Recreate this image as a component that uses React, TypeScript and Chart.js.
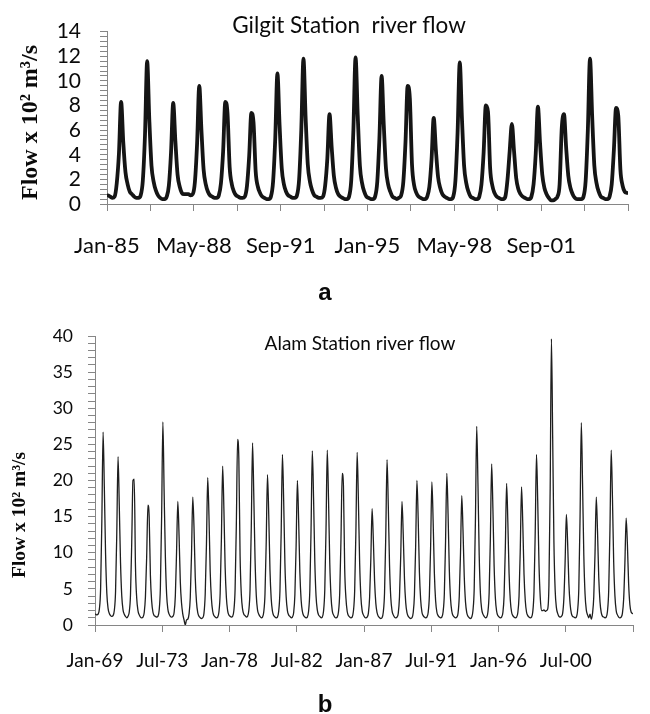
import React, { useEffect, useRef } from 'react';
import { Chart, registerables } from 'chart.js';

Chart.register(...registerables);

// ---------- text ----------
const gilgitTitle = 'Gilgit Station  river flow';
const alamTitle = 'Alam Station river flow';
const yAxisTitle = 'Flow x 10\u00B2 m\u00B3/s';
const panelLabelA = 'a';
const panelLabelB = 'b';

// ---------- axis ticks ----------
const gilgitXTickLabels = ['Jan-85', 'May-88', 'Sep-91', 'Jan-95', 'May-98', 'Sep-01'];
const gilgitXTickStep = 20; // months between tick marks
const gilgitYMajor = [0, 2, 4, 6, 8, 10, 12, 14];
const gilgitYMinorStep = 0.4;

const alamXTickLabels = ['Jan-69', 'Jul-73', 'Jan-78', 'Jul-82', 'Jan-87', 'Jul-91', 'Jan-96', 'Jul-00'];
const alamXTickStep = 54;
const alamYMajor = [0, 5, 10, 15, 20, 25, 30, 35, 40];
const alamYMinorStep = 1;

// ---------- data: monthly flow (x 10^2 m3/s) ----------
// Gilgit, Jan-1985 .. Dec-2004
const gilgitFlow = [
  0.7, 0.6, 0.5, 0.6, 1.7, 4.1, 8.3, 5.0, 2.6, 1.6, 1.0, 0.8,
  0.6, 0.5, 0.5, 0.7, 1.9, 5.6, 11.6, 6.8, 3.1, 1.8, 1.1, 0.7,
  0.5, 0.4, 0.4, 0.6, 1.5, 4.2, 8.2, 5.1, 2.4, 1.4, 0.9, 0.8,
  0.8, 0.8, 0.7, 0.8, 1.8, 4.9, 9.6, 6.0, 2.8, 1.6, 1.0, 0.7,
  0.6, 0.5, 0.5, 0.7, 1.7, 4.3, 8.3, 7.4, 3.0, 1.6, 1.0, 0.7,
  0.6, 0.5, 0.5, 0.6, 1.5, 3.9, 7.4, 6.6, 2.6, 1.4, 0.9, 0.6,
  0.5, 0.4, 0.4, 0.6, 1.8, 5.3, 10.6, 6.4, 2.9, 1.6, 1.0, 0.7,
  0.6, 0.5, 0.5, 0.7, 2.0, 6.0, 11.8, 7.0, 3.2, 1.8, 1.1, 0.7,
  0.6, 0.5, 0.5, 0.6, 1.5, 3.7, 7.3, 4.6, 2.3, 1.3, 0.8, 0.6,
  0.5, 0.4, 0.4, 0.6, 1.9, 6.0, 11.9, 7.2, 3.1, 1.7, 1.0, 0.6,
  0.5, 0.4, 0.4, 0.6, 1.8, 5.4, 10.4, 6.4, 2.9, 1.6, 1.0, 0.6,
  0.5, 0.4, 0.5, 0.7, 1.8, 5.0, 9.6, 8.6, 3.2, 1.5, 0.9, 0.6,
  0.5, 0.4, 0.4, 0.6, 1.4, 3.6, 7.0, 4.4, 2.2, 1.3, 0.8, 0.6,
  0.5, 0.4, 0.4, 0.6, 1.9, 5.8, 11.5, 7.0, 3.1, 1.7, 1.0, 0.6,
  0.5, 0.4, 0.4, 0.6, 1.6, 4.2, 8.0, 7.5, 2.9, 1.5, 0.9, 0.6,
  0.5, 0.4, 0.4, 0.6, 2.0, 4.3, 6.5, 4.3, 2.1, 1.2, 0.8, 0.6,
  0.5, 0.4, 0.4, 0.6, 1.6, 4.1, 7.9, 4.9, 2.4, 1.3, 0.8, 0.5,
  0.3, 0.3, 0.4, 0.6, 1.6, 6.2, 7.3, 4.6, 2.3, 1.3, 0.8, 0.5,
  0.4, 0.4, 0.4, 0.6, 1.9, 6.0, 11.8, 7.1, 3.1, 1.7, 1.0, 0.6,
  0.5, 0.4, 0.4, 0.6, 1.6, 4.4, 7.8, 7.2, 2.8, 1.5, 1.0, 0.9,
];

// Alam, Jan-1969 .. Dec-2004
const alamFlow = [
  1.5, 1.4, 1.5, 2.2, 5.0, 14.5, 26.7, 19.0, 9.8, 4.4, 2.3, 1.6,
  1.3, 1.2, 1.3, 2.0, 4.6, 12.8, 23.3, 16.5, 8.6, 4.0, 2.1, 1.5,
  1.2, 1.0, 1.2, 1.8, 4.2, 11.5, 20.0, 20.2, 8.1, 3.7, 2.0, 1.4,
  1.1, 1.0, 1.1, 1.7, 3.9, 9.5, 16.6, 15.0, 6.8, 3.3, 1.8, 1.3,
  1.2, 1.1, 1.2, 2.0, 5.2, 15.0, 28.1, 18.5, 9.5, 4.3, 2.2, 1.5,
  1.2, 1.1, 1.2, 1.7, 4.0, 10.2, 17.1, 12.4, 6.0, 3.0, 1.5, 0.7,
  0.0, 0.7, 0.8, 1.5, 3.8, 9.8, 17.7, 13.5, 6.6, 3.2, 1.7, 1.2,
  1.0, 0.9, 1.0, 1.6, 4.3, 11.2, 20.4, 15.2, 7.4, 3.6, 1.9, 1.3,
  1.1, 1.0, 1.1, 1.8, 4.4, 12.0, 22.0, 16.1, 8.0, 3.8, 2.0, 1.4,
  1.2, 1.1, 1.2, 2.0, 5.0, 14.0, 25.7, 23.0, 9.6, 4.2, 2.2, 1.5,
  1.3, 1.1, 1.2, 2.0, 4.9, 13.6, 25.2, 18.0, 9.2, 4.1, 2.1, 1.5,
  1.2, 1.0, 1.1, 1.8, 4.3, 11.6, 20.8, 15.3, 7.6, 3.6, 1.9, 1.3,
  1.1, 1.0, 1.1, 1.9, 4.7, 12.9, 23.6, 17.2, 8.5, 3.9, 2.0, 1.4,
  1.2, 1.0, 1.1, 1.7, 4.2, 11.0, 20.0, 14.6, 7.3, 3.5, 1.9, 1.3,
  1.1, 1.0, 1.1, 1.9, 4.8, 13.4, 24.1, 17.6, 8.8, 4.0, 2.1, 1.4,
  1.2, 1.0, 1.1, 1.9, 4.8, 13.2, 24.2, 17.5, 8.7, 4.0, 2.0, 1.4,
  1.1, 1.0, 1.1, 1.8, 4.4, 11.8, 21.0, 19.2, 7.8, 3.7, 1.9, 1.3,
  1.1, 1.0, 1.1, 1.9, 4.7, 13.0, 23.9, 17.3, 8.6, 3.9, 2.0, 1.4,
  1.1, 1.0, 1.1, 1.6, 3.8, 9.2, 16.1, 11.8, 6.1, 3.0, 1.7, 1.2,
  1.0, 0.9, 1.0, 1.8, 4.5, 12.6, 22.9, 16.6, 8.3, 3.8, 2.0, 1.4,
  1.1, 1.0, 1.1, 1.6, 3.9, 9.6, 17.1, 12.6, 6.4, 3.1, 1.7, 1.2,
  1.0, 0.9, 1.0, 1.7, 4.2, 11.1, 20.0, 14.8, 7.3, 3.5, 1.8, 1.3,
  1.1, 1.0, 1.1, 1.7, 4.1, 10.9, 19.8, 14.5, 7.2, 3.4, 1.8, 1.3,
  1.1, 1.0, 1.1, 1.8, 4.3, 11.7, 21.0, 15.4, 7.7, 3.6, 1.9, 1.3,
  1.1, 1.0, 1.1, 1.6, 4.0, 10.0, 17.9, 13.1, 6.7, 3.2, 1.7, 1.2,
  1.0, 0.9, 1.1, 2.0, 5.1, 14.8, 27.5, 19.6, 9.7, 4.3, 2.2, 1.5,
  1.2, 1.0, 1.1, 1.8, 4.5, 12.3, 22.3, 16.2, 8.1, 3.7, 1.9, 1.3,
  1.1, 1.0, 1.1, 1.7, 4.1, 10.8, 19.6, 14.3, 7.1, 3.4, 1.8, 1.3,
  1.1, 1.0, 1.1, 1.7, 4.0, 10.6, 19.1, 14.0, 7.0, 3.4, 1.8, 1.3,
  1.1, 1.0, 1.1, 1.8, 4.6, 13.0, 23.6, 17.1, 8.5, 3.9, 2.0, 2.0,
  2.1, 1.9, 2.0, 2.2, 5.5, 19.0, 39.6, 26.0, 11.5, 4.8, 2.4, 1.6,
  1.2, 1.1, 1.2, 1.6, 3.7, 8.8, 15.3, 11.4, 5.8, 2.9, 1.6, 1.2,
  1.1, 1.0, 1.1, 2.0, 5.1, 15.0, 28.0, 19.5, 9.7, 4.3, 2.1, 1.4,
  1.0, 1.5, 0.8, 1.6, 3.9, 9.9, 17.7, 13.0, 6.6, 3.2, 1.7, 1.2,
  1.1, 1.0, 1.1, 1.9, 4.8, 13.3, 24.2, 17.6, 8.7, 4.0, 2.0, 1.4,
  1.1, 1.0, 1.1, 1.6, 3.6, 8.6, 14.8, 11.2, 5.7, 2.8, 1.8, 1.6,
];

// ---------- styling ----------
const AXIS_COLOR = '#868686';
const TEXT_COLOR = '#0a0a0a';
const TICK_FONT = 'Lato, "Open Sans", sans-serif';
const SERIF = '"Liberation Serif", "Times New Roman", serif';
const SANS = '"Liberation Sans", Arial, sans-serif';

type TextItem = { text: string; x: number; y: number; font: string; align: CanvasTextAlign; rotate?: number };

const textOverlay = {
  id: 'textOverlay',
  afterDraw(chart: any, _args: any, opts: any) {
    const ctx = chart.ctx as CanvasRenderingContext2D;
    (opts.items as TextItem[]).forEach((t) => {
      ctx.save();
      ctx.font = t.font;
      ctx.fillStyle = TEXT_COLOR;
      ctx.textAlign = t.align;
      ctx.textBaseline = 'alphabetic';
      ctx.translate(t.x, t.y);
      if (t.rotate) ctx.rotate(t.rotate);
      ctx.fillText(t.text, 0, 0);
      ctx.restore();
    });
  },
};

function isMajor(v: number, majors: number[]) {
  return majors.some((m) => Math.abs(m - v) < 1e-6);
}

function range(max: number, step: number) {
  const out: { value: number }[] = [];
  const n = Math.round(max / step);
  for (let i = 0; i <= n; i++) out.push({ value: Math.round(i * step * 1000) / 1000 });
  return out;
}

interface PanelSpec {
  values: number[];
  xMax: number;
  xStep: number;
  xLabels: string[];
  xLabelEvery: number;
  yMax: number;
  yMajor: number[];
  yMinor: number;
  lineWidth: number;
  lineColor: string;
  padding: { top: number; right: number; left: number; bottom: number };
  yWidth: number;
  xHeight: number;
  xFontSize: number;
  xPad: number;
  yFontSize: number;
  yPad: number;
  texts: TextItem[];
}

function buildConfig(p: PanelSpec): any {
  return {
    type: 'line',
    data: {
      datasets: [
        {
          data: p.values.map((v, i) => ({ x: i + 0.5, y: v })),
          borderColor: p.lineColor,
          borderWidth: p.lineWidth,
          pointRadius: 0,
          fill: false,
          cubicInterpolationMode: 'monotone',
          borderJoinStyle: 'round',
          borderCapStyle: 'round',
        },
      ],
    },
    options: {
      responsive: false,
      animation: false,
      devicePixelRatio: 1,
      layout: { padding: p.padding },
      plugins: {
        legend: { display: false },
        tooltip: { enabled: false },
        title: { display: false },
        textOverlay: { items: p.texts },
      },
      scales: {
        x: {
          type: 'linear',
          min: 0,
          max: p.xMax,
          afterBuildTicks: (s: any) => {
            s.ticks = range(p.xMax, p.xStep);
          },
          afterFit: (s: any) => {
            s.height = p.xHeight;
          },
          grid: { drawOnChartArea: false, drawTicks: true, tickLength: 7, color: AXIS_COLOR, tickColor: AXIS_COLOR },
          border: { display: true, color: AXIS_COLOR, width: 1 },
          ticks: {
            autoSkip: false,
            maxRotation: 0,
            minRotation: 0,
            padding: p.xPad,
            color: TEXT_COLOR,
            font: { family: TICK_FONT, size: p.xFontSize },
            callback: (value: number) => {
              const m = Math.round(value);
              const k = m / (p.xStep * p.xLabelEvery);
              if (Number.isInteger(k) && k < p.xLabels.length) return p.xLabels[k];
              return '';
            },
          },
        },
        y: {
          type: 'linear',
          min: 0,
          max: p.yMax,
          afterBuildTicks: (s: any) => {
            s.ticks = range(p.yMax, p.yMinor);
          },
          afterFit: (s: any) => {
            s.width = p.yWidth;
          },
          grid: { drawOnChartArea: false, drawTicks: true, tickLength: 7, color: AXIS_COLOR, tickColor: AXIS_COLOR },
          border: { display: true, color: AXIS_COLOR, width: 1 },
          ticks: {
            autoSkip: false,
            padding: p.yPad,
            color: TEXT_COLOR,
            font: { family: TICK_FONT, size: p.yFontSize },
            callback: (value: number) => (isMajor(value, p.yMajor) ? String(Math.round(value)) : ''),
          },
        },
      },
    },
    plugins: [textOverlay],
  };
}

const panelA: PanelSpec = {
  values: gilgitFlow,
  xMax: gilgitFlow.length,
  xStep: gilgitXTickStep,
  xLabels: gilgitXTickLabels,
  xLabelEvery: 2,
  yMax: 14,
  yMajor: gilgitYMajor,
  yMinor: gilgitYMinorStep,
  lineWidth: 3.8,
  lineColor: '#151515',
  padding: { top: 21, right: 8, left: 0, bottom: 0 },
  yWidth: 107,
  xHeight: 106,
  xFontSize: 22,
  xPad: 22,
  yFontSize: 21,
  yPad: 19,
  texts: [
    { text: gilgitTitle, x: 349, y: 33, font: `22.5px ${TICK_FONT}`, align: 'center' },
    { text: yAxisTitle, x: 37, y: 200, font: `bold 24px ${SERIF}`, align: 'left', rotate: -Math.PI / 2 },
    { text: panelLabelA, x: 325, y: 300, font: `bold 24px ${SANS}`, align: 'center' },
  ],
};

const panelB: PanelSpec = {
  values: alamFlow,
  xMax: alamFlow.length,
  xStep: alamXTickStep,
  xLabels: alamXTickLabels,
  xLabelEvery: 1,
  yMax: 40,
  yMajor: alamYMajor,
  yMinor: alamYMinorStep,
  lineWidth: 1.3,
  lineColor: '#1e1e1e',
  padding: { top: 26, right: 6, left: 0, bottom: 0 },
  yWidth: 95,
  xHeight: 89,
  xFontSize: 19,
  xPad: 17,
  yFontSize: 17.5,
  yPad: 15,
  texts: [
    { text: alamTitle, x: 360, y: 40, font: `19px ${TICK_FONT}`, align: 'center' },
    { text: yAxisTitle, x: 25, y: 268, font: `bold 19.5px ${SERIF}`, align: 'left', rotate: -Math.PI / 2 },
    { text: panelLabelB, x: 325, y: 402, font: `bold 24px ${SANS}`, align: 'center' },
  ],
};

function ChartCanvas({ spec, top, height }: { spec: PanelSpec; top: number; height: number }) {
  const ref = useRef<HTMLCanvasElement>(null);
  useEffect(() => {
    if (!ref.current) return;
    const chart = new Chart(ref.current, buildConfig(spec));
    return () => chart.destroy();
  }, [spec]);
  return (
    <div style={{ position: 'absolute', left: 0, top, width: 650, height }}>
      <canvas ref={ref} width={650} height={height} style={{ width: 650, height, display: 'block' }} />
    </div>
  );
}

export default function App() {
  return (
    <div style={{ position: 'absolute', left: 0, top: 0, width: 650, height: 714, background: '#fff', overflow: 'hidden' }}>
      <ChartCanvas spec={panelA} top={0} height={310} />
      <ChartCanvas spec={panelB} top={310} height={404} />
    </div>
  );
}
